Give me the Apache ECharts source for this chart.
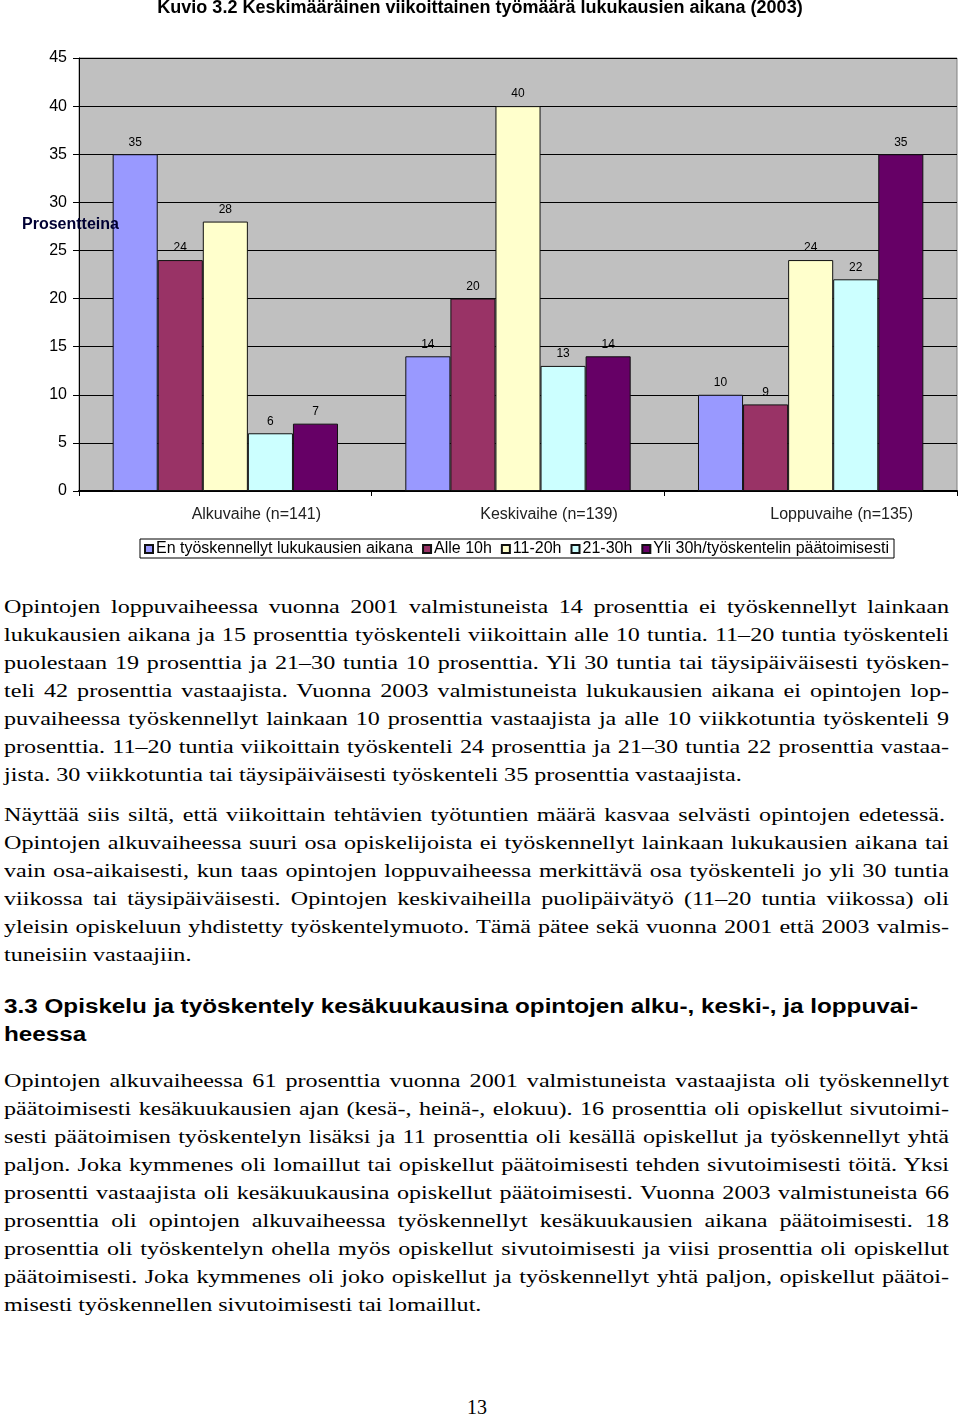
<!DOCTYPE html>
<html>
<head>
<meta charset="utf-8">
<script src="https://cdn.jsdelivr.net/npm/echarts@6/dist/echarts.min.js"></script>
<style>
  html, body { margin: 0; padding: 0; background: #fff; }
  body { width: 960px; height: 1419px; position: relative; overflow: hidden; }
  #chart { position: absolute; left: 0; top: 0; width: 960px; height: 570px; }
  .ln { position: absolute; left: 4px; white-space: nowrap; font-family: "Liberation Serif", "Times New Roman", serif;
        font-size: 19.5px; line-height: 28px; color: #000; transform-origin: 0 50%; }
  .j { text-align: justify; text-align-last: justify; }
  .h { position: absolute; left: 4px; white-space: nowrap; font-family: "Liberation Sans", Arial, sans-serif;
        font-weight: bold; font-size: 20px; line-height: 28px; color: #000; transform-origin: 0 50%; }
  #pg { position: absolute; left: 0; width: 954px; text-align: center; top: 1393px; font-family: "Liberation Serif", serif;
        font-size: 20px; line-height: 28px; color: #000; }
</style>
</head>
<body>
<div id="chart"></div>
<div id="text"></div>
<div id="pg">13</div>
<script>
// ---- chart data ----
const chartTitle = 'Kuvio 3.2 Keskimääräinen viikoittainen työmäärä lukukausien aikana (2003)';
const categories = ['Alkuvaihe (n=141)', 'Keskivaihe (n=139)', 'Loppuvaihe (n=135)'];
const seriesNames = ['En työskennellyt lukukausien aikana', 'Alle 10h', '11-20h', '21-30h', 'Yli 30h/työskentelin päätoimisesti'];
const noWork   = [35, 14, 10];
const under10  = [24, 20, 9];
const h11to20  = [28, 40, 24];
const h21to30  = [6, 13, 22];
const over30   = [7, 14, 35];
const yTicks = { min: 0, max: 45, interval: 5 };
const yName = 'Prosentteina';

const seriesValues = [noWork, under10, h11to20, h21to30, over30];
const colors = ['#9999FF', '#993366', '#FFFFCC', '#CCFFFF', '#660066'];

const chart = echarts.init(document.getElementById('chart'), null, { renderer: 'canvas' });
const font = '"Liberation Sans", Arial, sans-serif';
chart.setOption({
  animation: false,
  backgroundColor: '#fff',
  title: {
    text: chartTitle, left: 'center', top: -6,
    textStyle: { fontFamily: font, fontSize: 18, fontWeight: 'bold', color: '#000' }
  },
  legend: {
    data: seriesNames, left: 140, top: 539, orient: 'horizontal',
    icon: 'rect', itemWidth: 8, itemHeight: 8, itemGap: 9,
    padding: [2, 5, 1, 4], borderColor: '#000', borderWidth: 1,
    textStyle: { fontFamily: font, fontSize: 16, color: '#000', padding: [0, 0, 0, -2] }
  },
  grid: {
    left: 79, right: 3, top: 58, bottom: 79, show: true,
    backgroundColor: '#C0C0C0', borderColor: '#808080', borderWidth: 1
  },
  xAxis: {
    type: 'category', data: categories,
    axisLine: { show: true, lineStyle: { color: '#000', width: 2 } },
    axisTick: { show: true, length: 5, lineStyle: { color: '#000' } },
    axisLabel: { fontFamily: font, fontSize: 16, color: '#222', margin: 16, padding: [0, 0, 0, 62] }
  },
  yAxis: {
    type: 'value', min: yTicks.min, max: yTicks.max, interval: yTicks.interval,
    axisLine: { show: true, lineStyle: { color: '#000', width: 1 } },
    axisTick: { show: true, length: 6, lineStyle: { color: '#000' } },
    axisLabel: { fontFamily: font, fontSize: 16, color: '#000', margin: 12 },
    splitLine: { show: true, lineStyle: { color: '#000', width: 1 } }
  },
  graphic: [{
    type: 'text', left: 22, top: 217, z: 100,
    style: { text: yName, fontFamily: font, fontSize: 16, fontWeight: 'bold', fill: '#000033' }
  }],
  series: seriesNames.map((name, i) => ({
    name, type: 'bar', data: seriesValues[i],
    barGap: '0%', barCategoryGap: '23%',
    itemStyle: { color: colors[i], borderColor: '#111', borderWidth: 1 },
    label: { show: true, position: 'top', distance: 6, fontFamily: font, fontSize: 12, color: '#000' }
  }))
});

// ---- page text ----
const lines = [
  // [text, centerY, rightEdge (0 = not justified), kind]
  ['Opintojen loppuvaiheessa vuonna 2001 valmistuneista 14 prosenttia ei työskennellyt lainkaan', 607, 949, 'p'],
  ['lukukausien aikana ja 15 prosenttia työskenteli viikoittain alle 10 tuntia. 11–20 tuntia työskenteli', 635, 949, 'p'],
  ['puolestaan 19 prosenttia ja 21–30 tuntia 10 prosenttia. Yli 30 tuntia tai täysipäiväisesti työsken-', 663, 949, 'p'],
  ['teli 42 prosenttia vastaajista. Vuonna 2003 valmistuneista lukukausien aikana ei opintojen lop-', 691, 949, 'p'],
  ['puvaiheessa työskennellyt lainkaan 10 prosenttia vastaajista ja alle 10 viikkotuntia työskenteli 9', 719, 949, 'p'],
  ['prosenttia. 11–20 tuntia viikoittain työskenteli 24 prosenttia ja 21–30 tuntia 22 prosenttia vastaa-', 747, 949, 'p'],
  ['jista. 30 viikkotuntia tai täysipäiväisesti työskenteli 35 prosenttia vastaajista.', 775, 0, 'p'],
  ['Näyttää siis siltä, että viikoittain tehtävien työtuntien määrä kasvaa selvästi opintojen edetessä.', 815, 945, 'p'],
  ['Opintojen alkuvaiheessa suuri osa opiskelijoista ei työskennellyt lainkaan lukukausien aikana tai', 843, 949, 'p'],
  ['vain osa-aikaisesti, kun taas opintojen loppuvaiheessa merkittävä osa työskenteli jo yli 30 tuntia', 871, 949, 'p'],
  ['viikossa tai täysipäiväisesti. Opintojen keskivaiheilla puolipäivätyö (11–20 tuntia viikossa) oli', 899, 949, 'p'],
  ['yleisin opiskeluun yhdistetty työskentelymuoto. Tämä pätee sekä vuonna 2001 että 2003 valmis-', 927, 949, 'p'],
  ['tuneisiin vastaajiin.', 955, 0, 'p'],
  ['3.3 Opiskelu ja työskentely kesäkuukausina opintojen alku-, keski-, ja loppuvai-', 1006, 0, 'h'],
  ['heessa', 1034, 0, 'h'],
  ['Opintojen alkuvaiheessa 61 prosenttia vuonna 2001 valmistuneista vastaajista oli työskennellyt', 1081, 949, 'p'],
  ['päätoimisesti kesäkuukausien ajan (kesä-, heinä-, elokuu). 16 prosenttia oli opiskellut sivutoimi-', 1109, 949, 'p'],
  ['sesti päätoimisen työskentelyn lisäksi ja 11 prosenttia oli kesällä opiskellut ja työskennellyt yhtä', 1137, 949, 'p'],
  ['paljon. Joka kymmenes oli lomaillut tai opiskellut päätoimisesti tehden sivutoimisesti töitä. Yksi', 1165, 949, 'p'],
  ['prosentti vastaajista oli kesäkuukausina opiskellut päätoimisesti. Vuonna 2003 valmistuneista 66', 1193, 949, 'p'],
  ['prosenttia oli opintojen alkuvaiheessa työskennellyt kesäkuukausien aikana päätoimisesti. 18', 1221, 949, 'p'],
  ['prosenttia oli työskentelyn ohella myös opiskellut sivutoimisesti ja viisi prosenttia oli opiskellut', 1249, 949, 'p'],
  ['päätoimisesti. Joka kymmenes oli joko opiskellut ja työskennellyt yhtä paljon, opiskellut päätoi-', 1277, 949, 'p'],
  ['misesti työskennellen sivutoimisesti tai lomaillut.', 1305, 0, 'p']
];
const container = document.getElementById('text');
const leftX = 4;
function natural(text, cls) {
  const s = document.createElement('span');
  s.className = cls; s.style.position = 'absolute'; s.style.visibility = 'hidden';
  s.textContent = text; document.body.appendChild(s);
  const w = s.getBoundingClientRect().width; s.remove(); return w;
}
const pScale = (741 / natural(lines[6][0], 'ln') + 186 / natural(lines[12][0], 'ln') + 479 / natural(lines[23][0], 'ln')) / 3;
const hScale = 914 / natural(lines[13][0], 'h');
lines.forEach(([t, cy, right, k]) => {
  const d = document.createElement('div');
  d.className = (k === 'h' ? 'h' : 'ln') + (right ? ' j' : '');
  const sc = k === 'h' ? hScale : pScale;
  d.textContent = t;
  d.style.top = (cy - 14) + 'px';
  if (right) d.style.width = ((right - leftX) / sc) + 'px';
  d.style.transform = 'scaleX(' + sc + ')';
  container.appendChild(d);
});
</script>
</body>
</html>
